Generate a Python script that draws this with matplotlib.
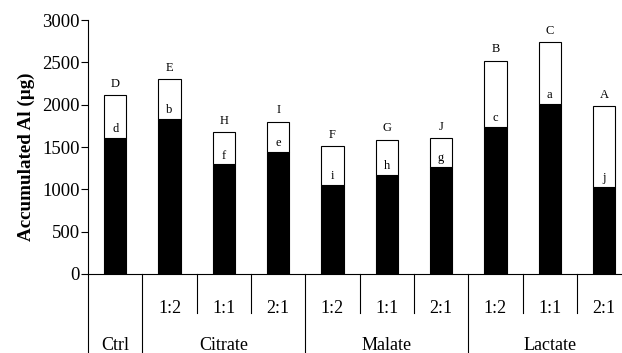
import numpy as np
import matplotlib.pyplot as plt

# valeurs (microgrammes)
ratios = ["", "1:2", "1:1", "2:1", "1:2", "1:1", "2:1", "1:2", "1:1", "2:1"]
groupes = ["Ctrl", "Citrate", "Malate", "Lactate"]
taille_groupes = [1, 3, 3, 3]
bas = [1605, 1830, 1295, 1440, 1055, 1175, 1270, 1735, 2010, 1025]
total = [2113, 2300, 1677, 1800, 1511, 1588, 1606, 2518, 2736, 1981]
lettres_bas = ["d", "b", "f", "e", "i", "h", "g", "c", "a", "j"]
lettres_haut = ["D", "E", "H", "I", "F", "G", "J", "B", "C", "A"]

plt.rcParams['font.family'] = ['Liberation Serif', 'DejaVu Serif']

x = np.arange(len(bas))
haut = np.array(total) - np.array(bas)

fig = plt.figure(figsize=(6.22, 3.53), dpi=100)
ax = fig.add_axes([0.1415, 0.2238, 0.8585, 0.7192])

ax.bar(x, bas, width=0.41, color='black', edgecolor='black', linewidth=0.8)
ax.bar(x, haut, bottom=bas, width=0.41, color='white', edgecolor='black', linewidth=0.8)

for i in range(len(x)):
    ax.annotate(lettres_bas[i], (x[i], bas[i]), xytext=(0, 2), textcoords='offset points',
                ha='center', va='bottom', fontsize=9)
    ax.annotate(lettres_haut[i], (x[i], total[i]), xytext=(0, 4), textcoords='offset points',
                ha='center', va='bottom', fontsize=9)

ax.set_xlim(-0.5, 9.33)
ax.set_ylim(0, 3000)
ax.set_yticks(range(0, 3001, 500))
ax.tick_params(axis='y', labelsize=13.5, length=5, pad=1, direction='out', width=0.8)
ax.set_xticks([])
ax.spines['top'].set_visible(False)
ax.spines['right'].set_visible(False)
ax.spines['left'].set_linewidth(0.8)
ax.spines['bottom'].set_linewidth(0.8)
ax.set_ylabel("Accumulated Al (µg)", fontsize=13.7, fontweight='bold')
ax.yaxis.set_label_coords(-0.099, 0.46)

# tableau des categories sous l'axe
trans = ax.get_xaxis_transform()
debuts = np.cumsum([0] + taille_groupes)
for i in range(len(x) + 1):
    bord = i - 0.5
    y_fin = -0.311 if i in debuts else -0.1535
    ax.plot([bord, bord], [0, y_fin], color='black', lw=0.8, transform=trans, clip_on=False)
for i, r in enumerate(ratios):
    ax.text(x[i], -0.134, r, transform=trans, ha='center', va='center', fontsize=13)
for g, nom in enumerate(groupes):
    centre = (debuts[g] + debuts[g + 1] - 1) / 2
    ax.text(centre, -0.28, nom, transform=trans, ha='center', va='center', fontsize=13)

plt.savefig("out.png", dpi=100)
